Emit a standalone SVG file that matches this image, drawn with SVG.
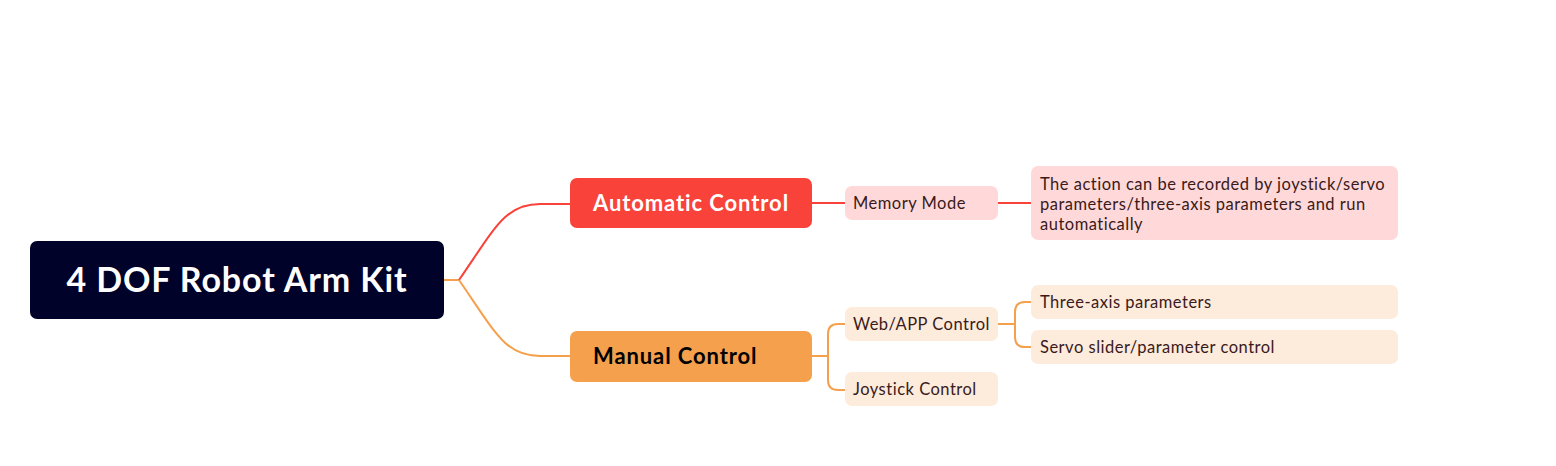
<svg xmlns="http://www.w3.org/2000/svg" width="1556" height="466" viewBox="0 0 1556 466">
<style>
  text { font-family: Lato, "Open Sans", "Liberation Sans", sans-serif; }
  .root-t { font-size: 34px; font-weight: 700; fill: #ffffff; letter-spacing: 0.9px; }
  .main-t { font-size: 22px; font-weight: 700; letter-spacing: 0.9px; }
  .sub-t { font-size: 16.5px; fill: #3a1a1a; letter-spacing: 0.5px; }
  .red { stroke: #F9423A; stroke-width: 2; fill: none; }
  .org { stroke: #F5A04C; stroke-width: 2; fill: none; }
</style>
<rect width="1556" height="466" fill="#ffffff"/>
<g id="connectors">
  <path class="org" d="M444,280 H459"/>
  <path class="red" d="M459,280 C495,228 505,204 540,204 H570"/>
  <path class="org" d="M459,280 C495,332 505,356 540,356 H570"/>
  <path class="red" d="M812,203 H845"/>
  <path class="red" d="M998,203 H1031"/>
  <path class="org" d="M812,356 H828"/>
  <path class="org" d="M845,324 H838 Q828,324 828,334 V380 Q828,390 838,390 H845"/>
  <path class="org" d="M998,324 H1015"/>
  <path class="org" d="M1031,302 H1025 Q1015,302 1015,312 V337 Q1015,347 1025,347 H1031"/>
</g>
<g id="root">
  <rect x="30" y="241" width="414" height="78" rx="7" fill="#000229"/>
  <text class="root-t" x="237" y="292" text-anchor="middle">4 DOF Robot Arm Kit</text>
</g>
<g id="automatic">
  <rect x="570" y="178" width="242" height="50" rx="7" fill="#F9423A"/>
  <text class="main-t" x="593" y="211" fill="#ffffff">Automatic Control</text>
</g>
<g id="manual">
  <rect x="570" y="331" width="242" height="51" rx="7" fill="#F5A04C"/>
  <text class="main-t" x="593" y="364" fill="#000000">Manual Control</text>
</g>
<g id="memory">
  <rect x="845" y="186" width="153" height="34" rx="7" fill="#FFD9D9"/>
  <text class="sub-t" x="853" y="209">Memory Mode</text>
</g>
<g id="memory-desc">
  <rect x="1031" y="166" width="367" height="74" rx="7" fill="#FFD9D9"/>
  <text class="sub-t" x="1040" y="190">The action can be recorded by joystick/servo</text>
  <text class="sub-t" x="1040" y="210">parameters/three-axis parameters and run</text>
  <text class="sub-t" x="1040" y="230">automatically</text>
</g>
<g id="webapp">
  <rect x="845" y="307" width="153" height="34" rx="7" fill="#FDEBDC"/>
  <text class="sub-t" x="853" y="330">Web/APP Control</text>
</g>
<g id="joystick">
  <rect x="845" y="372" width="153" height="34" rx="7" fill="#FDEBDC"/>
  <text class="sub-t" x="853" y="395">Joystick Control</text>
</g>
<g id="threeaxis">
  <rect x="1031" y="285" width="367" height="34" rx="7" fill="#FDEBDC"/>
  <text class="sub-t" x="1040" y="308">Three-axis parameters</text>
</g>
<g id="servo">
  <rect x="1031" y="330" width="367" height="34" rx="7" fill="#FDEBDC"/>
  <text class="sub-t" x="1040" y="353">Servo slider/parameter control</text>
</g>
</svg>
